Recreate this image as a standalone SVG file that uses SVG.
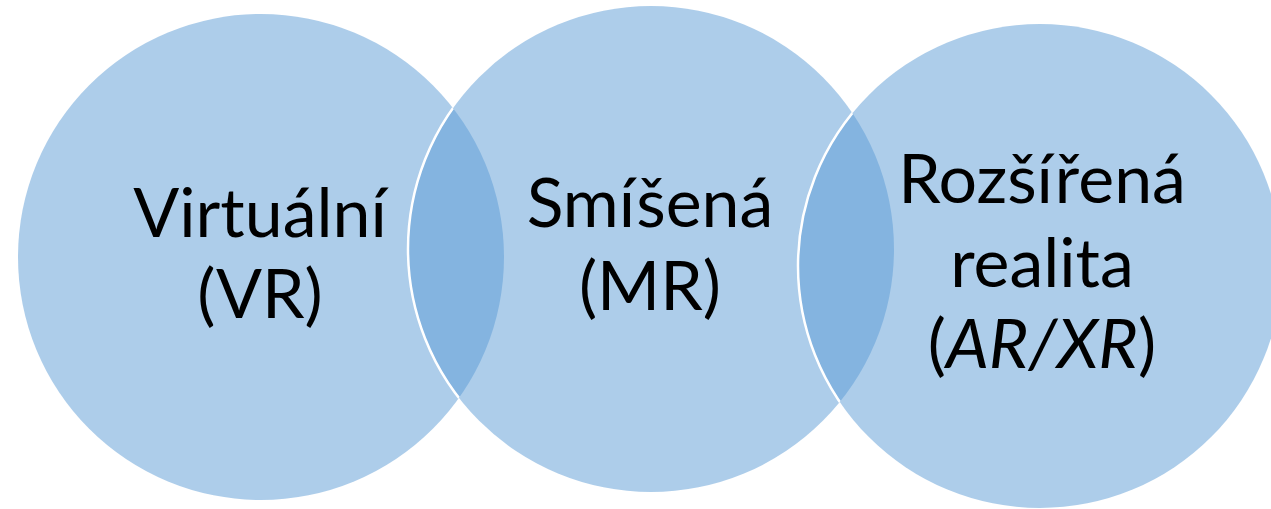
<svg xmlns="http://www.w3.org/2000/svg" width="1271" height="509" viewBox="0 0 1271 509">
<style>
.c{fill:#5B9BD5;fill-opacity:0.5;stroke:none}
.e{fill:none;stroke:#FFFFFF;stroke-width:2.5}
.t{font-family:Lato,"Liberation Sans",sans-serif;font-size:68px;fill:#000000;text-anchor:middle}
</style>
<defs>
<clipPath id="inL"><circle cx="261" cy="257" r="243"/></clipPath>
<clipPath id="inM"><circle cx="651" cy="249" r="243"/></clipPath>
</defs>
<rect width="1271" height="509" fill="#FFFFFF"/>
<g id="node-vr">
<circle class="c" cx="261" cy="257" r="243"/>
</g>
<g id="node-mr">
<circle class="c" cx="651" cy="249" r="243"/>
</g>
<g id="node-ar">
<circle class="c" cx="1040" cy="266" r="242"/>
</g>
<g id="edges">
<circle class="e" cx="651" cy="249" r="243" clip-path="url(#inL)"/>
<circle class="e" cx="1040" cy="266" r="242" clip-path="url(#inM)"/>
</g>
<g id="labels">
<text class="t" x="260" y="237">Virtuální</text>
<text class="t" x="260" y="318">(VR)</text>
<text class="t" x="650" y="227">Smíšená</text>
<text class="t" x="650" y="310">(MR)</text>
<text class="t" x="1042" y="203">Rozšířená</text>
<text class="t" x="1042" y="287">realita</text>
<text class="t" x="1042" y="368">(<tspan font-style="italic">AR/XR</tspan>)</text>
</g>
</svg>
